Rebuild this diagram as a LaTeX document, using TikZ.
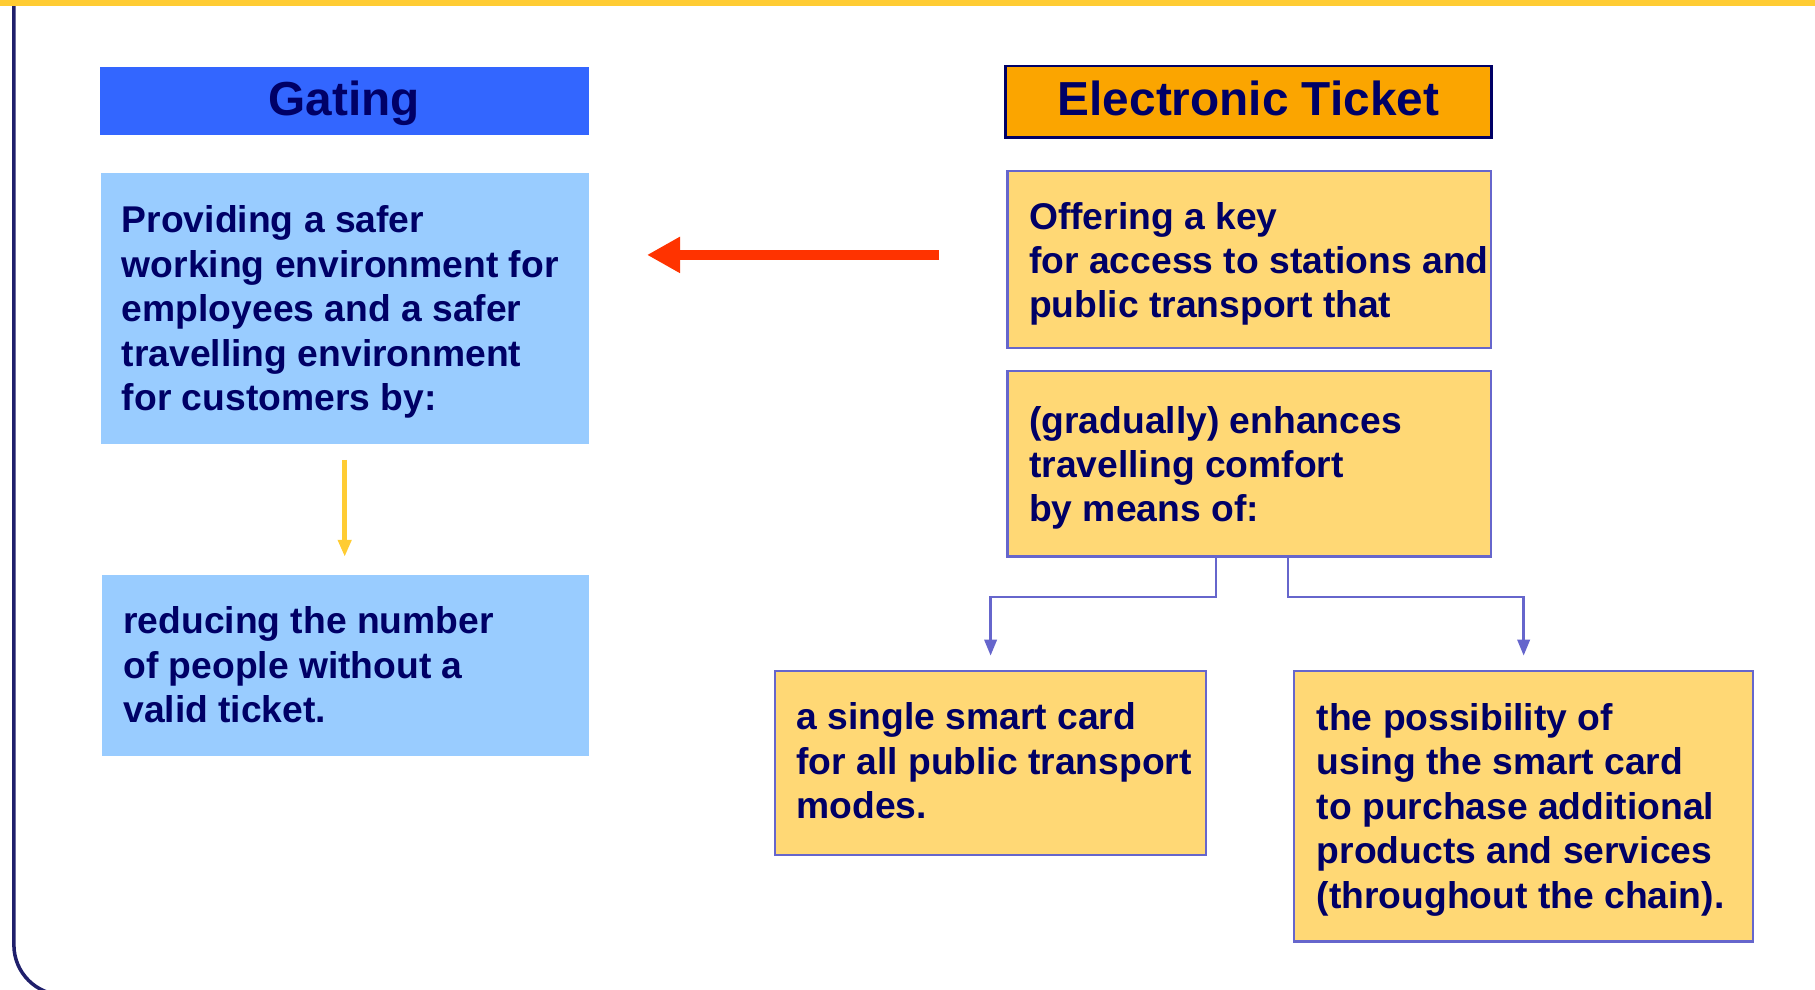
\documentclass[tikz,border=0pt]{standalone}
\usepackage{fontspec}
\setmainfont{Liberation Sans}
\usetikzlibrary{arrows.meta}
\definecolor{navy}{HTML}{000066}
\definecolor{gblue}{HTML}{3366FF}
\definecolor{lblue}{HTML}{99CCFF}
\definecolor{ylw}{HTML}{FFD875}
\definecolor{orng}{HTML}{FBA500}
\definecolor{bord}{HTML}{6666CC}
\definecolor{redarr}{HTML}{FF3300}
\definecolor{gold}{HTML}{FFCC33}
\definecolor{frame}{HTML}{1F1F6B}
\begin{document}
\begin{tikzpicture}[x=0.4pt, y=-0.4pt,
  hdr/.style={rectangle, inner sep=0pt, text=navy, font=\fontsize{19.1pt}{22pt}\selectfont\bfseries, text height=13.7pt, text depth=2.4pt},
  box/.style={rectangle, inner sep=0pt},
  bbox/.style={box, fill=lblue},
  ybox/.style={box, fill=ylw, draw=bord, line width=0.95pt},
  txt/.style={anchor=north west, inner sep=0pt, align=left, text=navy, font=\fontsize{14.9pt}{17.76pt}\selectfont\bfseries},
  redline/.style={draw=redarr, line width=4.3pt, -{Triangle[length=13.2pt, width=13.6pt]}},
  goldline/.style={draw=gold, line width=2.2pt, -{Triangle[length=6.8pt, width=5.2pt]}},
  conn/.style={draw=bord, line width=0.95pt, -{Triangle[length=6.4pt, width=5pt]}}
]
\useasboundingbox (0,0) rectangle (1815,989);
% top band and left frame
\fill[gold] (0,0) rectangle (1815,6);
\draw[frame, line width=1.4pt] (13.9,6) -- (13.9,945) arc[start angle=180, end angle=90, radius=50];

% headers
\node[hdr, fill=gblue, minimum width=489*0.4pt, minimum height=67.7*0.4pt] (gating) at (344,101.15) {Gating};
\node[hdr, fill=orng, draw=navy, line width=1pt, minimum width=486*0.4pt, minimum height=71.5*0.4pt] (et) at (1248.5,101.75) {Electronic Ticket};

% boxes
\node[bbox, minimum width=487.6*0.4pt, minimum height=270.2*0.4pt] (b1) at (344.7,308.4) {};
\node[bbox, minimum width=487*0.4pt, minimum height=181.2*0.4pt] (b2) at (345.5,665.1) {};
\node[ybox, minimum width=483.5*0.4pt, minimum height=177*0.4pt] (y1) at (1249.25,259.5) {};
\node[ybox, minimum width=483.5*0.4pt, minimum height=185.5*0.4pt] (y2) at (1249.25,463.75) {};
\node[ybox, minimum width=430.8*0.4pt, minimum height=183.7*0.4pt] (y3) at (990.6,762.85) {};
\node[ybox, minimum width=458.7*0.4pt, minimum height=270.5*0.4pt] (y4) at (1523.65,806.25) {};

% texts
\node[txt] (b1t) at (121.4,205.3) {Providing a safer\\working environment for\\employees and a safer\\travelling environment\\for customers by:};
\node[txt] (b2t) at (122.8,606.3) {reducing the number\\of people without a\\valid ticket.};
\node[txt] (y1t) at (1028.7,201.5) {Offering a key\\for access to stations and\\public transport that};
\node[txt] (y2t) at (1028.7,405.5) {(gradually) enhances\\travelling comfort\\by means of:};
\node[txt] (y3t) at (796,702.3) {a single smart card\\for all public transport\\modes.};
\node[txt] (y4t) at (1316.3,703) {the possibility of\\using the smart card\\to purchase additional\\products and services\\(throughout the chain).};

% connectors
\draw[redline, shorten <=26.9pt, shorten >=23.2pt] ([yshift=1.84pt]y1.west) -- ([yshift=1.84pt]y1.west -| b1.east);
\draw[goldline, shorten <=6.3pt, shorten >=6.9pt] (b1.south) -- (b1.south |- b2.north);
\draw[conn, shorten >=5.7pt] ([xshift=-13.38pt]y2.south) -- ++(0,39.2) -| (y3.north);
\draw[conn, shorten >=5.7pt] ([xshift=15.6pt]y2.south) -- ++(0,39.2) -| (y4.north);
\end{tikzpicture}
\end{document}
